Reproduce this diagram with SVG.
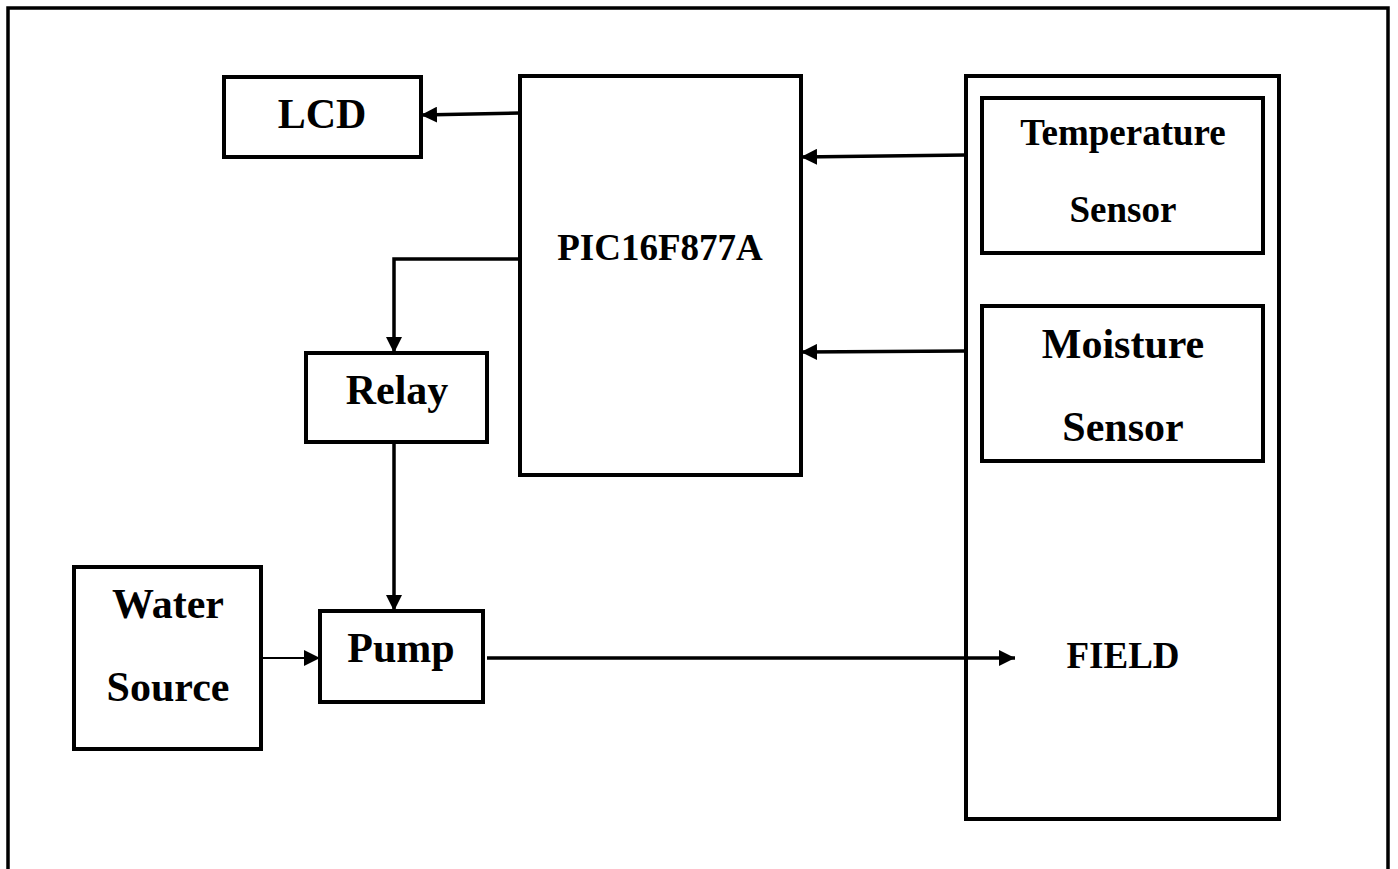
<svg xmlns="http://www.w3.org/2000/svg" width="1398" height="869" viewBox="0 0 1398 869">
<style>
.box{fill:none;stroke:#000;stroke-width:4}
.frame{fill:none;stroke:#000;stroke-width:3.5}
.lbl{font-family:"Liberation Serif","Times New Roman",serif;font-weight:bold;fill:#000;text-anchor:middle}
.big{font-size:42px}
.small{font-size:37px}
.conn{fill:none;stroke:#000;stroke-width:3.5}
.thin{fill:none;stroke:#000;stroke-width:1.8}
</style>
<defs>
<marker id="arr" markerUnits="userSpaceOnUse" markerWidth="17" markerHeight="16" refX="16" refY="8" orient="auto">
<path d="M0,0 L16,8 L0,16 Z" fill="#000"/>
</marker>
</defs>
<rect width="1398" height="869" fill="#fff"/>
<rect class="frame" x="8" y="8" width="1380" height="880"/>

<g id="field">
<rect class="box" x="966" y="76" width="313" height="743"/>
<text class="lbl small" x="1123" y="668">FIELD</text>
</g>
<g id="lcd">
<rect class="box" x="224" y="77" width="197" height="80"/>
<text class="lbl big" x="322" y="128">LCD</text>
</g>
<g id="pic">
<rect class="box" x="520" y="76" width="281" height="399"/>
<text class="lbl small" x="660" y="260">PIC16F877A</text>
</g>
<g id="temp">
<rect class="box" x="982" y="98" width="281" height="155"/>
<text class="lbl small" x="1123" y="145">Temperature</text>
<text class="lbl small" x="1123" y="222">Sensor</text>
</g>
<g id="moisture">
<rect class="box" x="982" y="306" width="281" height="155"/>
<text class="lbl big" x="1123" y="358">Moisture</text>
<text class="lbl big" x="1123" y="441">Sensor</text>
</g>
<g id="relay">
<rect class="box" x="306" y="353" width="181" height="89"/>
<text class="lbl big" x="397" y="404">Relay</text>
</g>
<g id="water">
<rect class="box" x="74" y="567" width="187" height="182"/>
<text class="lbl big" x="168" y="618">Water</text>
<text class="lbl big" x="168" y="701">Source</text>
</g>
<g id="pump">
<rect class="box" x="320" y="611" width="163" height="91"/>
<text class="lbl big" x="401" y="662">Pump</text>
</g>

<g id="connectors">
<path class="conn" d="M520,113 L421,115" marker-end="url(#arr)"/>
<path class="conn" d="M520,259 L394,259 L394,353" marker-end="url(#arr)"/>
<path class="conn" d="M394,442 L394,611" marker-end="url(#arr)"/>
<path class="thin" d="M261,658 L320,658" marker-end="url(#arr)"/>
<path class="conn" d="M487,658 L1015,658" marker-end="url(#arr)"/>
<path class="conn" d="M966,155 L801,157" marker-end="url(#arr)"/>
<path class="conn" d="M966,351 L801,352" marker-end="url(#arr)"/>
</g>
</svg>
